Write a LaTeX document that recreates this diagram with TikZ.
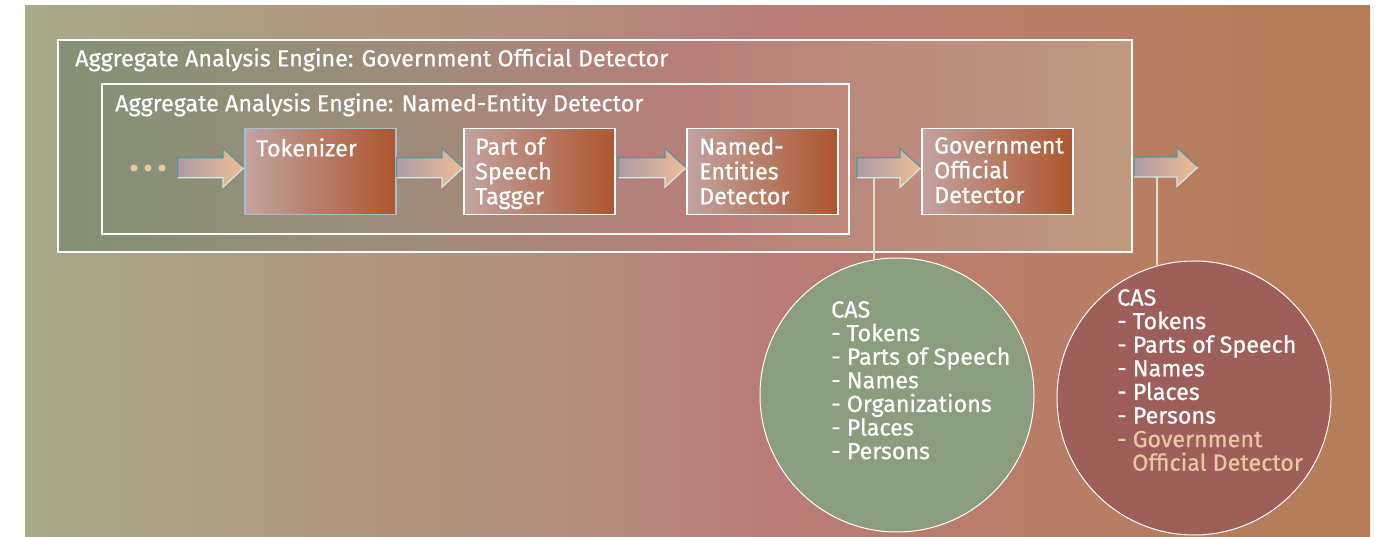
\documentclass[tikz,border=0pt]{standalone}
\usepackage{fontspec}
\setmainfont{Fira Sans}[FakeBold=0.6]
\usetikzlibrary{calc}

\definecolor{bgL}{RGB}{168,170,135}
\definecolor{bgA}{RGB}{174,155,128}
\definecolor{bgB}{RGB}{180,140,127}
\definecolor{bgM}{RGB}{185,124,121}
\definecolor{bgC}{RGB}{185,125,105}
\definecolor{bgR}{RGB}{181,125,86}
\definecolor{engL}{RGB}{131,145,119}
\definecolor{engA}{RGB}{158,140,122}
\definecolor{engM}{RGB}{184,126,122}
\definecolor{engB}{RGB}{190,146,125}
\definecolor{engR}{RGB}{191,154,127}
\definecolor{boxL}{RGB}{194,163,160}
\definecolor{boxM}{RGB}{184,126,90}
\definecolor{boxR}{RGB}{173,86,46}
\definecolor{arrL}{RGB}{172,156,166}
\definecolor{arrM}{RGB}{222,176,150}
\definecolor{arrR}{RGB}{238,190,148}
\definecolor{arrDark}{RGB}{88,150,152}
\definecolor{arrLight}{RGB}{214,230,228}
\definecolor{peach}{RGB}{232,200,160}
\definecolor{casGreen}{RGB}{138,158,127}
\definecolor{casRed}{RGB}{158,94,90}
\definecolor{linkCol}{RGB}{226,218,210}
\definecolor{tokEdge}{RGB}{160,192,208}

% horizontal colour ramps (the 25bp..75bp band spans the filled path)
\pgfdeclarehorizontalshading{backdrop}{100bp}{color(0bp)=(bgL); color(25bp)=(bgL);
  color(35bp)=(bgA); color(44.5bp)=(bgB); color(52.7bp)=(bgM); color(61bp)=(bgC);
  color(75bp)=(bgR); color(100bp)=(bgR)}
\pgfdeclarehorizontalshading{enginefill}{100bp}{color(0bp)=(engL); color(25bp)=(engL);
  color(41bp)=(engA); color(54.5bp)=(engM); color(69bp)=(engB);
  color(75bp)=(engR); color(100bp)=(engR)}

% block arrow drawn between two anchors: tail point #1, tip point #2
\newcommand\blockarrow[2]{%
  \shade[left color=arrL, middle color=arrM, right color=arrR]
    let \p1=(#1), \p2=($(#2)+(0,-4)$) in
    (\x1,\y2+10pt) -- (\x2-21pt,\y2+10pt) -- (\x2-21pt,\y2+19.5pt) -- (\x2,\y2)
    -- (\x2-21pt,\y2-19.5pt) -- (\x2-21pt,\y2-10pt) -- (\x1,\y2-10pt) -- cycle;
  \draw[arrDark, line width=1.2pt, line join=miter]
    let \p1=(#1), \p2=($(#2)+(0,-4)$) in
    (\x1,\y2-10pt) -- (\x1,\y2+10pt) -- (\x2-21pt,\y2+10pt) -- (\x2-21pt,\y2+19.5pt) -- (\x2,\y2);
  \draw[arrLight, line width=1.2pt, line join=miter]
    let \p1=(#1), \p2=($(#2)+(0,-4)$) in
    (\x2,\y2) -- (\x2-21pt,\y2-19.5pt) -- (\x2-21pt,\y2-10pt) -- (\x1,\y2-10pt);
}

\tikzset{
  engine/.style={draw=white, line width=2pt, anchor=north west, inner sep=0pt},
  procbox/.style={draw=white, line width=1.5pt, anchor=north west, inner sep=0pt,
    minimum width=151pt, minimum height=86pt,
    left color=boxL, middle color=boxM, right color=boxR},
  boxtext/.style={anchor=north west, inner sep=0pt, align=left, text=white,
    font=\fontsize{23.3}{24.8}\selectfont},
  title/.style={anchor=north west, inner sep=0pt, text=white,
    font=\fontsize{23.3}{24}\selectfont},
  cas/.style={circle, draw=white, line width=1pt, minimum size=274pt, inner sep=0pt},
  castext/.style={anchor=north west, inner sep=0pt, align=left, text=white,
    font=\fontsize{23.3}{23.6}\selectfont},
  dot/.style={circle, fill=peach, minimum size=7pt, inner sep=0pt},
  link/.style={draw=linkCol, line width=1.4pt},
}

\begin{document}
\begin{tikzpicture}[x=1pt, y=-1pt]
\useasboundingbox (0,0) rectangle (1382,537);
% backdrop
\shade[shading=backdrop] (25,6) rectangle (1370,537);

% engines
\node[engine, minimum width=1074pt, minimum height=212pt, shading=enginefill] (outer) at (57,39) {};
\node[engine, minimum width=747pt, minimum height=150pt] (inner) at (101,83) {};
\node[title] (outerT) at (75,48) {Aggregate Analysis Engine: Government Official Detector};
\node[title] (innerT) at (115,93) {Aggregate Analysis Engine: Named-Entity Detector};

% annotators
\node[procbox, draw=tokEdge] (tok) at (244,128) {};
\node[procbox] (pos) at (463,128) {};
\node[procbox] (ner) at (686,128) {};
\node[procbox] (god) at (921,128) {};
\node[boxtext] (tokT) at (256,138) {Tokenizer};
\node[boxtext] (posT) at (475,137) {Part of\\Speech\\Tagger};
\node[boxtext] (nerT) at (699,137) {Named-\\Entities\\Detector};
\node[boxtext] (godT) at (934,137) {Government\\Official\\Detector};

% leading dots
\node[dot] (d1) at (134,168) {};
\node[dot] (d2) at (148,168) {};
\node[dot] (d3) at (162,168) {};

% flow arrows
\coordinate (out) at (1198,171);
\blockarrow{$(d3.east)+(12,0)$}{tok.west}
\blockarrow{tok.east}{pos.west}
\blockarrow{$(pos.east)+(3,0)$}{ner.west}
\blockarrow{$(inner.east)+(7,0)$}{god.west}
\blockarrow{$(outer.east)+(1,0)$}{out}

% CAS contents
\node[cas, fill=casGreen] (cas1) at (897,395) {};
\node[cas, fill=casRed] (cas2) at (1194,398) {};
\coordinate (foot1) at (874,177);
\coordinate (foot2) at (1157,177);
\draw[link] (foot1) -- (foot1 |- cas1.99.7);
\draw[link] (foot2) -- (foot2 |- cas2.105.2);

\node[castext] (cas1T) at (831,301)
  {CAS\\- Tokens\\- Parts of Speech\\- Names\\- Organizations\\- Places\\- Persons};
\node[castext] (cas2T) at (1117,289)
  {CAS\\- Tokens\\- Parts of Speech\\- Names\\- Places\\- Persons\\
   \textcolor{peach}{- Government}\\\textcolor{peach}{\hspace*{15pt}Official Detector}};
\end{tikzpicture}
\end{document}
